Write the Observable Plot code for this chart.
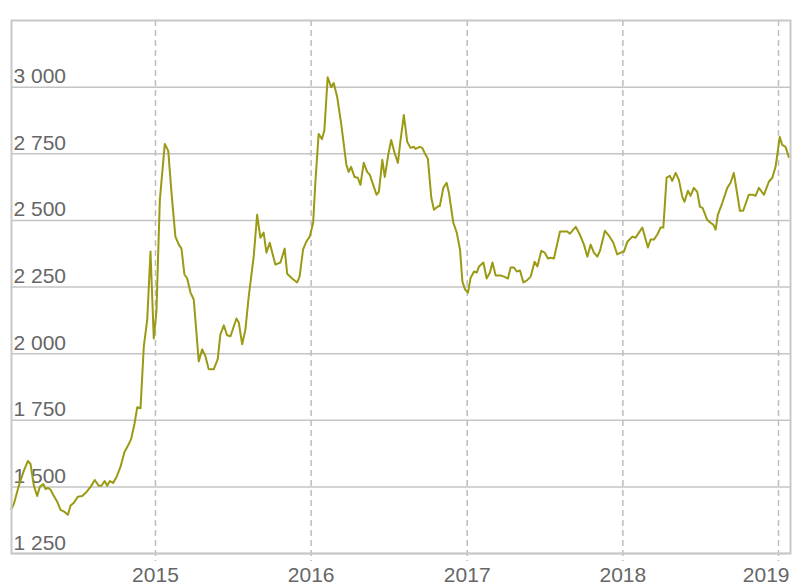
<!DOCTYPE html>
<html>
<head>
<meta charset="utf-8">
<script src="https://cdn.jsdelivr.net/npm/d3@7"></script>
<script src="https://cdn.jsdelivr.net/npm/@observablehq/plot@0.6"></script>
<style>
  html, body { margin: 0; padding: 0; background: #fff; }
  #chart svg { display: block; }
</style>
</head>
<body>
<div id="chart"></div>
<script>
// Time as decimal years
const times = [
  2014.075, 2014.090, 2014.122, 2014.154, 2014.180, 2014.197, 2014.219, 2014.240, 2014.257, 2014.279,
  2014.294, 2014.309, 2014.326, 2014.347, 2014.369, 2014.390, 2014.416, 2014.437, 2014.454, 2014.475,
  2014.501, 2014.529, 2014.557, 2014.583, 2014.610, 2014.636, 2014.653, 2014.673, 2014.690, 2014.707,
  2014.728, 2014.750, 2014.775, 2014.801, 2014.822, 2014.844, 2014.865, 2014.883, 2014.904, 2014.925,
  2014.947, 2014.968, 2014.989, 2015.006, 2015.028, 2015.060, 2015.082, 2015.103, 2015.128, 2015.150,
  2015.167, 2015.186, 2015.204, 2015.225, 2015.246, 2015.278, 2015.300, 2015.321, 2015.342, 2015.374,
  2015.400, 2015.417, 2015.439, 2015.460, 2015.482, 2015.520, 2015.535, 2015.557, 2015.578, 2015.599,
  2015.631, 2015.653, 2015.674, 2015.695, 2015.713, 2015.734, 2015.770, 2015.803, 2015.830, 2015.846,
  2015.878, 2015.910, 2015.926, 2015.948, 2015.969, 2015.991, 2016.013, 2016.027, 2016.048, 2016.070,
  2016.085, 2016.106, 2016.128, 2016.145, 2016.167, 2016.192, 2016.226, 2016.241, 2016.256, 2016.278,
  2016.299, 2016.316, 2016.337, 2016.359, 2016.376, 2016.398, 2016.419, 2016.434, 2016.456, 2016.472,
  2016.494, 2016.513, 2016.535, 2016.556, 2016.573, 2016.594, 2016.616, 2016.637, 2016.658, 2016.669,
  2016.695, 2016.712, 2016.727, 2016.748, 2016.770, 2016.787, 2016.809, 2016.825, 2016.847, 2016.868,
  2016.883, 2016.911, 2016.933, 2016.954, 2016.969, 2016.986, 2017.005, 2017.022, 2017.044, 2017.061,
  2017.076, 2017.104, 2017.125, 2017.146, 2017.162, 2017.183, 2017.215, 2017.236, 2017.262, 2017.279,
  2017.300, 2017.318, 2017.339, 2017.361, 2017.382, 2017.408, 2017.433, 2017.451, 2017.476, 2017.498,
  2017.519, 2017.536, 2017.557, 2017.596, 2017.622, 2017.643, 2017.660, 2017.697, 2017.724, 2017.750,
  2017.772, 2017.793, 2017.814, 2017.836, 2017.853, 2017.885, 2017.910, 2017.939, 2017.964, 2017.986,
  2018.007, 2018.029, 2018.061, 2018.082, 2018.103, 2018.125, 2018.161, 2018.178, 2018.199, 2018.221,
  2018.242, 2018.260, 2018.281, 2018.302, 2018.317, 2018.339, 2018.360, 2018.382, 2018.396, 2018.418,
  2018.435, 2018.456, 2018.478, 2018.495, 2018.512, 2018.542, 2018.563, 2018.581, 2018.596, 2018.610,
  2018.639, 2018.671, 2018.692, 2018.713, 2018.752, 2018.773, 2018.809, 2018.838, 2018.852, 2018.874,
  2018.906, 2018.938, 2018.960, 2018.981, 2019.008, 2019.024, 2019.045, 2019.066
];
const values = [
  1418, 1436, 1504, 1560, 1597, 1586, 1504, 1466, 1500, 1511,
  1492, 1496, 1489, 1466, 1444, 1414, 1406, 1395, 1429, 1440,
  1463, 1466, 1481, 1500, 1526, 1504, 1504, 1522, 1504, 1522,
  1515, 1537, 1575, 1631, 1653, 1680, 1736, 1799, 1795, 2027,
  2128, 2383, 2057, 2158, 2577, 2787, 2761, 2603, 2439, 2409,
  2394, 2297, 2282, 2229, 2203, 1971, 2016, 1990, 1941, 1941,
  1979, 2072, 2106, 2069, 2065, 2132, 2117, 2035, 2091, 2214,
  2364, 2521, 2435, 2454, 2379, 2416, 2334, 2342, 2394, 2300,
  2282, 2267, 2289, 2390, 2420, 2439, 2491, 2641, 2824, 2805,
  2839, 3037, 3000, 3015, 2963, 2865, 2708, 2682, 2701, 2663,
  2660, 2633, 2716, 2682, 2671, 2633, 2596, 2607, 2727, 2663,
  2746, 2802, 2753, 2716, 2802, 2895, 2794, 2772, 2776, 2768,
  2776, 2772, 2753, 2731, 2585, 2540, 2551, 2555, 2622, 2641,
  2603, 2491, 2454, 2390, 2271, 2241, 2229, 2285, 2308, 2304,
  2327, 2342, 2282, 2304, 2342, 2293, 2293, 2289, 2282, 2323,
  2323, 2308, 2312, 2267, 2274, 2289, 2345, 2327, 2386, 2379,
  2357, 2360, 2357, 2458, 2458, 2458, 2450, 2476, 2446, 2409,
  2364, 2409, 2379, 2364, 2386, 2461, 2443, 2416, 2372, 2379,
  2383, 2420, 2439, 2435, 2454, 2473, 2398, 2428, 2428, 2446,
  2473, 2473, 2660, 2667, 2648, 2678, 2652, 2588, 2570, 2611,
  2592, 2622, 2607, 2551, 2547, 2502, 2491, 2484, 2465, 2521,
  2566, 2622, 2641, 2678, 2536, 2536, 2596, 2596, 2592, 2622,
  2596, 2645, 2660, 2701, 2813, 2783, 2776, 2738
];
const yearTicks = [2015, 2016, 2017, 2018, 2019];
const yearLabels = ["2015", "2016", "2017", "2018", "2019"];
const yTicks = [1250, 1500, 1750, 2000, 2250, 2500, 2750, 3000];
const yTickLabels = ["1 250", "1 500", "1 750", "2 000", "2 250", "2 500", "2 750", "3 000"];
const xStart = 2014.075, xEnd = 2019.077;

function toDate(t) {
  const y = Math.floor(t);
  const s = Date.UTC(y, 0, 1), e = Date.UTC(y + 1, 0, 1);
  return new Date(s + (t - y) * (e - s));
}

const data = times.map((t, i) => ({date: toDate(t), value: values[i]}));
const yearDates = yearTicks.map(y => toDate(y));
const lastIdx = yearLabels.length - 1;

const chart = Plot.plot({
  width: 800,
  height: 587,
  marginLeft: 11,
  marginRight: 10,
  marginTop: 20,
  marginBottom: 34,
  style: {fontFamily: "'Liberation Sans', Arial, Helvetica, sans-serif", background: "#fff"},
  x: {type: "utc", domain: [toDate(xStart), toDate(xEnd)], axis: null},
  y: {domain: [1250, 3250], axis: null},
  marks: [
    Plot.ruleY(yTicks, {stroke: "#c4c4c4", strokeWidth: 1.5}),
    Plot.ruleX(yearDates, {stroke: "#bdbdbd", strokeWidth: 1.5, strokeDasharray: "6,4", insetBottom: -8}),
    Plot.text(yTicks, {
      y: d => d,
      text: (d, i) => yTickLabels[i],
      frameAnchor: "left",
      textAnchor: "start",
      lineAnchor: "bottom",
      dx: 2,
      dy: -4,
      fontSize: 21,
      fill: "#666"
    }),
    // year labels, centred under their ticks
    Plot.text(yearDates.slice(0, lastIdx), {
      x: d => d,
      text: (d, i) => yearLabels[i],
      frameAnchor: "bottom",
      lineAnchor: "top",
      dy: 14,
      fontSize: 21,
      fill: "#666"
    }),
    // last year label, kept inside the right edge
    Plot.text([yearLabels[lastIdx]], {
      text: d => d,
      frameAnchor: "bottom-right",
      textAnchor: "end",
      lineAnchor: "top",
      dx: -1,
      dy: 14,
      fontSize: 21,
      fill: "#666"
    }),
    Plot.line(data, {x: "date", y: "value", stroke: "#9a9a14", strokeWidth: 2}),
    Plot.frame({stroke: "#c8c8c8", strokeWidth: 2})
  ]
});
document.getElementById("chart").appendChild(chart);
</script>
</body>
</html>
